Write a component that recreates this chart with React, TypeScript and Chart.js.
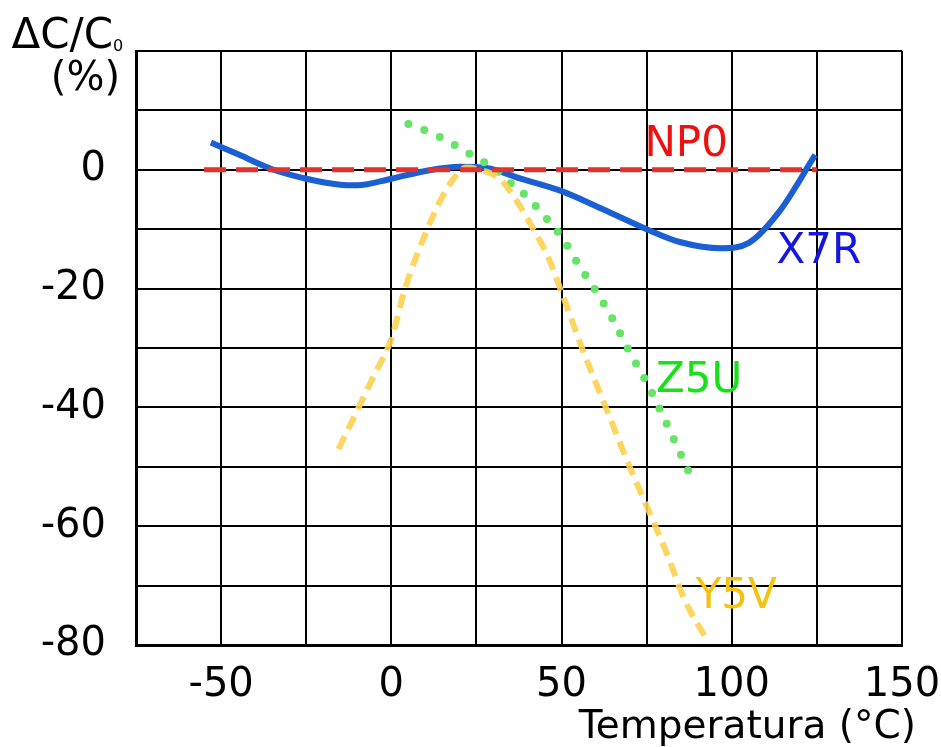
import React, { useEffect, useRef } from "react";
import { Chart, registerables } from "chart.js";

Chart.register(...registerables);

// Temperature (°C) and capacitance change (%) per dielectric class
const np0T = [-55, 125];
const np0V = [0, 0];

const x7rT = [-53, -45, -35, -25, -15, -10, 0, 10, 20, 28, 38, 50, 62, 75, 85, 97, 105, 114, 124.5];
const x7rV = [4.6, 2.6, 0.1, -1.5, -2.5, -2.6, -1.5, -0.2, 0.5, 0.3, -1.5, -3.6, -6.6, -10, -12.2, -13.2, -12.3, -7, 2.5];

const z5uT = [5, 10, 15, 20, 25, 30, 35, 40, 45, 50, 55, 60, 65, 70, 75, 80, 87.5];
const z5uV = [7.7, 6.6, 5.3, 3.7, 2.0, 0.3, -2.2, -4.6, -7.8, -11.3, -16, -20.3, -25.1, -30.7, -35.8, -41.7, -51];

const y5vT = [-15.5, -10, -5, 0, 4, 10, 15, 19, 22, 26, 32, 37, 42, 46, 50, 56, 63, 70, 75, 81, 86, 92];
const y5vV = [-47, -40.5, -34.5, -28.5, -20, -10.8, -4.5, -1, 0.4, 0, -1.6, -5.4, -10.3, -14.6, -20.6, -30, -40, -50, -56.6, -64.7, -72.2, -78.5];

const xTickLabels = [-50, 0, 50, 100, 150];
const yTickLabels = [0, -20, -40, -60, -80];

const seriesLabels = ["NP0", "X7R", "Z5U", "Y5V"];
const labelT = [86.6, 125.6, 90.4, 101.3];
const labelV = [4.2, -13.9, -35.5, -72];
const labelColors = ["#ee1111", "#1515e0", "#19e019", "#f5c211"];

const FONT = "'DejaVu Sans', 'Liberation Sans', sans-serif";

const pts = (xs: number[], ys: number[]) => xs.map((x, i) => ({ x, y: ys[i] }));

const annotations = {
  id: "annotations",
  afterDraw(chart: any) {
    const ctx = chart.ctx;
    const { x, y } = chart.scales;
    const area = chart.chartArea;
    ctx.save();
    // series labels
    ctx.font = `42px ${FONT}`;
    ctx.textAlign = "center";
    ctx.textBaseline = "middle";
    seriesLabels.forEach((s, i) => {
      ctx.fillStyle = labelColors[i];
      ctx.fillText(s, x.getPixelForValue(labelT[i]), y.getPixelForValue(labelV[i]));
    });
    // y-axis title
    ctx.fillStyle = "#000";
    ctx.font = `42px ${FONT}`;
    ctx.textAlign = "right";
    ctx.textBaseline = "alphabetic";
    ctx.fillText("ΔC/C", area.left - 23, 48);
    ctx.font = `16px ${FONT}`;
    ctx.textAlign = "left";
    ctx.fillText("0", area.left - 23, 51);
    ctx.font = `40px ${FONT}`;
    ctx.textAlign = "right";
    ctx.fillText("(%)", area.left - 16, 90);
    // x-axis title
    ctx.font = `39px ${FONT}`;
    ctx.textAlign = "right";
    ctx.textBaseline = "middle";
    ctx.fillText("Temperatura (°C)", area.right + 14, 728);
    ctx.restore();
  },
};

export default function App() {
  const ref = useRef<HTMLCanvasElement | null>(null);
  useEffect(() => {
    if (!ref.current) return;
    const chart = new Chart(ref.current, {
      type: "line",
      data: {
        datasets: [
          {
            label: "NP0",
            data: pts(np0T, np0V),
            borderColor: "#e6302a",
            borderWidth: 5,
            borderDash: [22, 10],
            pointRadius: 0,
            tension: 0,
          },
          {
            label: "Y5V",
            data: pts(y5vT, y5vV),
            borderColor: "rgba(253, 208, 80, 0.9)",
            borderWidth: 6,
            borderDash: [14, 8],
            pointRadius: 0,
            cubicInterpolationMode: "monotone",
          },
          {
            label: "Z5U",
            data: pts(z5uT, z5uV),
            borderColor: "#66e466",
            borderWidth: 8,
            borderDash: [0, 17],
            borderCapStyle: "round",
            pointRadius: 0,
            cubicInterpolationMode: "monotone",
          },
          {
            label: "X7R",
            data: pts(x7rT, x7rV),
            borderColor: "#1b5fd2",
            borderWidth: 6,
            pointRadius: 0,
            cubicInterpolationMode: "monotone",
          },
        ],
      },
      options: {
        animation: false,
        responsive: false,
        layout: { padding: { left: 0, top: 51, right: 39, bottom: 0 } },
        plugins: { legend: { display: false }, tooltip: { enabled: false } },
        scales: {
          x: {
            type: "linear",
            min: -75,
            max: 150,
            afterFit: (s: any) => {
              s.height = 102;
              s.paddingLeft = 0;
              s.paddingRight = 0;
            },
            ticks: {
              stepSize: 25,
              autoSkip: false,
              maxRotation: 0,
              padding: 17,
              color: "#000",
              font: { family: FONT, size: 40 },
              callback: (v: any) => (xTickLabels.includes(Number(v)) ? String(v) : ""),
            },
            grid: { color: "#000", lineWidth: 2, drawTicks: false },
            border: { color: "#000", width: 3 },
          },
          y: {
            type: "linear",
            min: -80,
            max: 20,
            afterFit: (s: any) => {
              s.width = 136;
              s.paddingTop = 0;
              s.paddingBottom = 0;
            },
            ticks: {
              stepSize: 10,
              autoSkip: false,
              padding: 30,
              color: "#000",
              font: { family: FONT, size: 40 },
              callback: (v: any) => (yTickLabels.includes(Number(v)) ? String(v) : ""),
            },
            grid: { color: "#000", lineWidth: 2, drawTicks: false },
            border: { color: "#000", width: 3 },
          },
        },
      },
      plugins: [annotations],
    });
    return () => chart.destroy();
  }, []);
  return (
    <div style={{ position: "fixed", left: 0, top: 0, width: 941, height: 747, background: "#fff" }}>
      <canvas ref={ref} width={941} height={747} style={{ display: "block" }} />
    </div>
  );
}
